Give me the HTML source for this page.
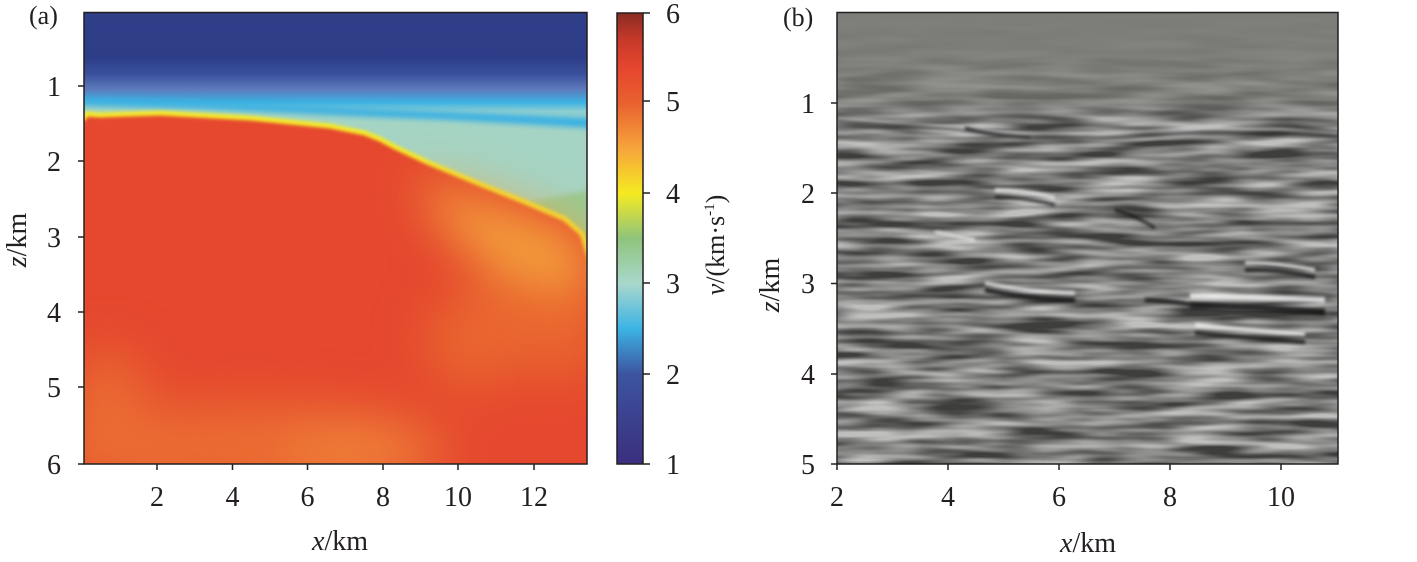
<!DOCTYPE html>
<html><head><meta charset="utf-8"><style>
html,body{margin:0;padding:0;background:#fff;}
svg{display:block;}
text{font-family:"Liberation Serif",serif;fill:#231f20;}
</style></head><body>
<svg width="1417" height="562" viewBox="0 0 1417 562" xmlns="http://www.w3.org/2000/svg">
<defs>
<linearGradient id="bg" gradientUnits="userSpaceOnUse" x1="0" y1="12" x2="0" y2="125">
 <stop offset="0" stop-color="#2f3f88"/>
 <stop offset="0.4" stop-color="#2d3d87"/>
 <stop offset="0.55" stop-color="#3a519d"/>
 <stop offset="0.68" stop-color="#5d79bb"/>
 <stop offset="0.8" stop-color="#3cb2e3"/>
 <stop offset="0.88" stop-color="#8fcfd0"/>
 <stop offset="1" stop-color="#a6d5c6"/>
</linearGradient>
<linearGradient id="cb" gradientUnits="userSpaceOnUse" x1="0" y1="13" x2="0" y2="464">
 <stop offset="0" stop-color="#8a2c22"/>
 <stop offset="0.06" stop-color="#c7392a"/>
 <stop offset="0.12" stop-color="#e5452e"/>
 <stop offset="0.2" stop-color="#e9612f"/>
 <stop offset="0.3" stop-color="#f6a43b"/>
 <stop offset="0.4" stop-color="#f5ea22"/>
 <stop offset="0.5" stop-color="#8ec47c"/>
 <stop offset="0.6" stop-color="#a8d8cc"/>
 <stop offset="0.7" stop-color="#3cb3e4"/>
 <stop offset="0.8" stop-color="#3d54a0"/>
 <stop offset="1" stop-color="#3a2f7e"/>
</linearGradient>
<clipPath id="ca"><rect x="84" y="12.5" width="503" height="451.5"/></clipPath>
<clipPath id="cbb"><rect x="837" y="12.5" width="501" height="451.5"/></clipPath>
<filter id="b3" x="-10%" y="-10%" width="120%" height="120%" color-interpolation-filters="sRGB"><feGaussianBlur stdDeviation="3"/></filter>
<filter id="b1" x="-10%" y="-10%" width="120%" height="120%" color-interpolation-filters="sRGB"><feGaussianBlur stdDeviation="1.5"/></filter>
<filter id="b20" x="-30%" y="-30%" width="160%" height="160%" color-interpolation-filters="sRGB"><feGaussianBlur stdDeviation="25"/></filter>
<filter id="seis" x="837" y="12" width="501" height="452" filterUnits="userSpaceOnUse" color-interpolation-filters="sRGB">
 <feTurbulence type="fractalNoise" baseFrequency="0.012 0.1" numOctaves="2" seed="7"/>
 <feColorMatrix type="matrix" values="1 0 0 0 0  1 0 0 0 0  1 0 0 0 0  0 0 0 0 1"/>
 <feComponentTransfer>
  <feFuncR type="linear" slope="2.2" intercept="-0.61"/>
  <feFuncG type="linear" slope="2.2" intercept="-0.61"/>
  <feFuncB type="linear" slope="2.2" intercept="-0.61"/>
 </feComponentTransfer>
</filter>
<linearGradient id="top" gradientUnits="userSpaceOnUse" x1="0" y1="12" x2="0" y2="128">
 <stop offset="0" stop-color="#7d7d79" stop-opacity="1"/>
 <stop offset="0.4" stop-color="#7d7d79" stop-opacity="0.9"/>
 <stop offset="0.8" stop-color="#7d7d79" stop-opacity="0.6"/>
 <stop offset="1" stop-color="#7d7d79" stop-opacity="0"/>
</linearGradient>
</defs>

<!-- Panel a -->
<g clip-path="url(#ca)">
 <rect x="84" y="12" width="503" height="452" fill="url(#bg)"/>
 <g filter="url(#b3)">
  <path d="M80,98 L200,102 L350,108 L450,112 L590,118 L595,118 L595,134 L590,134 L450,121 L350,117 L200,110 L80,108 Z" fill="#3bb0e2"/>
  <path d="M80,106 L200,109 L350,116 L450,120 L590,128 L595,128 L595,260 L590,250 L565,220 L525,203 L475,183 L425,162 L395,148 L368,135 L330,127 L250,119 L160,114 L100,116 L80,118 Z" fill="#a5d4c4"/>
  <path d="M515,205 L590,190 L595,250 L565,228 Z" fill="#93c680" opacity="0.7"/>
 </g>
 <g filter="url(#b1)">
  <path d="M80,122 L87,114 L100,115 L160,113 L250,118 L330,126 L365,133 L380,139 L395,147 L427,162 L475,182 L525,202 L565,219 L582,234 L590,260 L595,470 L80,470 Z" fill="#e5482e" stroke="#f5e82a" stroke-width="5"/>
 </g>
 <g filter="url(#b20)">
  <path d="M415,178 L525,213 L590,240 L590,340 L515,290 L445,228 Z" fill="#f3a23c"/>
  <ellipse cx="515" cy="340" rx="90" ry="60" fill="#e9662f"/>
  <ellipse cx="250" cy="450" rx="200" ry="45" fill="#ea6c32"/>
  <ellipse cx="355" cy="455" rx="70" ry="30" fill="#ef8038"/>
  <ellipse cx="108" cy="420" rx="40" ry="70" fill="#ea6c32"/>
  <ellipse cx="535" cy="420" rx="70" ry="50" fill="#e5482e"/>
 </g>
</g>
<rect x="84" y="12.5" width="503" height="451.5" fill="none" stroke="#231f20" stroke-width="1.5"/>
<g stroke="#231f20" stroke-width="1.5">
 <line x1="78" y1="86" x2="84" y2="86"/><line x1="78" y1="161" x2="84" y2="161"/><line x1="78" y1="237" x2="84" y2="237"/>
 <line x1="78" y1="312" x2="84" y2="312"/><line x1="78" y1="387" x2="84" y2="387"/><line x1="78" y1="464" x2="84" y2="464"/>
 <line x1="157" y1="464" x2="157" y2="470"/><line x1="232.5" y1="464" x2="232.5" y2="470"/><line x1="307.5" y1="464" x2="307.5" y2="470"/>
 <line x1="383" y1="464" x2="383" y2="470"/><line x1="458" y1="464" x2="458" y2="470"/><line x1="534" y1="464" x2="534" y2="470"/>
</g>
<g font-size="28" text-anchor="end">
 <text x="61" y="96">1</text><text x="61" y="171">2</text><text x="61" y="247">3</text>
 <text x="61" y="322">4</text><text x="61" y="397">5</text><text x="61" y="474">6</text>
</g>
<g font-size="28" text-anchor="middle">
 <text x="157" y="506">2</text><text x="232.5" y="506">4</text><text x="307.5" y="506">6</text>
 <text x="383" y="506">8</text><text x="458" y="506">10</text><text x="534" y="506">12</text>
</g>
<text x="340" y="550" font-size="28" text-anchor="middle"><tspan font-style="italic">x</tspan>/km</text>
<text transform="translate(26,240) rotate(-90)" font-size="28" text-anchor="middle"><tspan font-style="italic">z</tspan>/km</text>
<text x="29" y="24" font-size="26">(a)</text>

<!-- colorbar -->
<rect x="617" y="13" width="26" height="451" fill="url(#cb)" stroke="#231f20" stroke-width="1.5"/>
<g stroke="#231f20" stroke-width="1.5">
 <line x1="643" y1="13" x2="650" y2="13"/><line x1="643" y1="101" x2="650" y2="101"/><line x1="643" y1="193" x2="650" y2="193"/>
 <line x1="643" y1="283" x2="650" y2="283"/><line x1="643" y1="374" x2="650" y2="374"/><line x1="643" y1="464" x2="650" y2="464"/>
</g>
<g font-size="28">
 <text x="666" y="23">6</text><text x="666" y="111">5</text><text x="666" y="203">4</text>
 <text x="666" y="293">3</text><text x="666" y="384">2</text><text x="666" y="474">1</text>
</g>
<text transform="translate(724,245) rotate(-90)" font-size="26" text-anchor="middle"><tspan font-style="italic">v</tspan>/(km·s<tspan font-size="15" dy="-10">-1</tspan><tspan dy="10">)</tspan></text>

<!-- Panel b -->
<g clip-path="url(#cbb)">
 <rect x="837" y="12" width="501" height="452" fill="#7e7e7c"/>
 <rect x="837" y="12" width="501" height="452" filter="url(#seis)" opacity="0.5"/>
 <rect x="837" y="12" width="501" height="116" fill="url(#top)"/>
 <g filter="url(#b1)" fill="none" opacity="0.8">
  <path d="M837,118 L900,123 L960,127 L1000,132 L1100,134 L1200,128 L1280,129 L1338,133" stroke="#c8c8c8" stroke-width="2"/>
  <path d="M837,121 L900,126 L960,130 L1000,136 L1100,138 L1200,132 L1280,133 L1338,137" stroke="#2a2a2a" stroke-width="2"/>
  <path d="M965,128 Q990,135 1030,137" stroke="#101010" stroke-width="3"/>
  <path d="M995,190 Q1025,190 1055,198" stroke="#eeeeee" stroke-width="4"/>
  <path d="M995,197 Q1025,197 1055,205" stroke="#1a1a1a" stroke-width="3.5"/>
  <path d="M985,290 Q1035,300 1075,300" stroke="#111" stroke-width="5"/>
  <path d="M985,283 Q1035,293 1075,293" stroke="#f2f2f2" stroke-width="4"/>
  <path d="M1190,305 Q1245,306 1325,312" stroke="#0c0c0c" stroke-width="7"/>
  <path d="M1190,296 Q1245,297 1325,300" stroke="#fafafa" stroke-width="6"/>
  <path d="M1195,325 Q1245,330 1305,334" stroke="#fafafa" stroke-width="4"/>
  <path d="M1195,333 Q1245,338 1305,342" stroke="#111" stroke-width="4"/>
  <path d="M1245,263 Q1275,262 1315,270" stroke="#f5f5f5" stroke-width="4"/>
  <path d="M1245,270 Q1275,269 1315,277" stroke="#111" stroke-width="4"/>
  <path d="M1145,300 Q1185,302 1195,306" stroke="#111" stroke-width="4"/>
  <path d="M1115,210 Q1135,215 1155,228" stroke="#111" stroke-width="3"/>
  <path d="M935,232 Q955,236 975,240" stroke="#f0f0f0" stroke-width="3"/>
 </g>
</g>
<rect x="837" y="12.5" width="501" height="451.5" fill="none" stroke="#231f20" stroke-width="1.5"/>
<g stroke="#231f20" stroke-width="1.5">
 <line x1="831" y1="103" x2="837" y2="103"/><line x1="831" y1="193" x2="837" y2="193"/><line x1="831" y1="283.5" x2="837" y2="283.5"/>
 <line x1="831" y1="374" x2="837" y2="374"/><line x1="831" y1="464" x2="837" y2="464"/>
 <line x1="837" y1="464" x2="837" y2="470"/><line x1="948" y1="464" x2="948" y2="470"/><line x1="1059" y1="464" x2="1059" y2="470"/>
 <line x1="1170" y1="464" x2="1170" y2="470"/><line x1="1281" y1="464" x2="1281" y2="470"/>
</g>
<g font-size="28" text-anchor="end">
 <text x="815" y="113">1</text><text x="815" y="203">2</text><text x="815" y="293">3</text>
 <text x="815" y="384">4</text><text x="815" y="474">5</text>
</g>
<g font-size="28" text-anchor="middle">
 <text x="837" y="506">2</text><text x="948" y="506">4</text><text x="1059" y="506">6</text>
 <text x="1170" y="506">8</text><text x="1281" y="506">10</text>
</g>
<text x="1088" y="552" font-size="28" text-anchor="middle"><tspan font-style="italic">x</tspan>/km</text>
<text transform="translate(779,285) rotate(-90)" font-size="28" text-anchor="middle"><tspan font-style="italic">z</tspan>/km</text>
<text x="783" y="26" font-size="26">(b)</text>
</svg>
</body></html>
